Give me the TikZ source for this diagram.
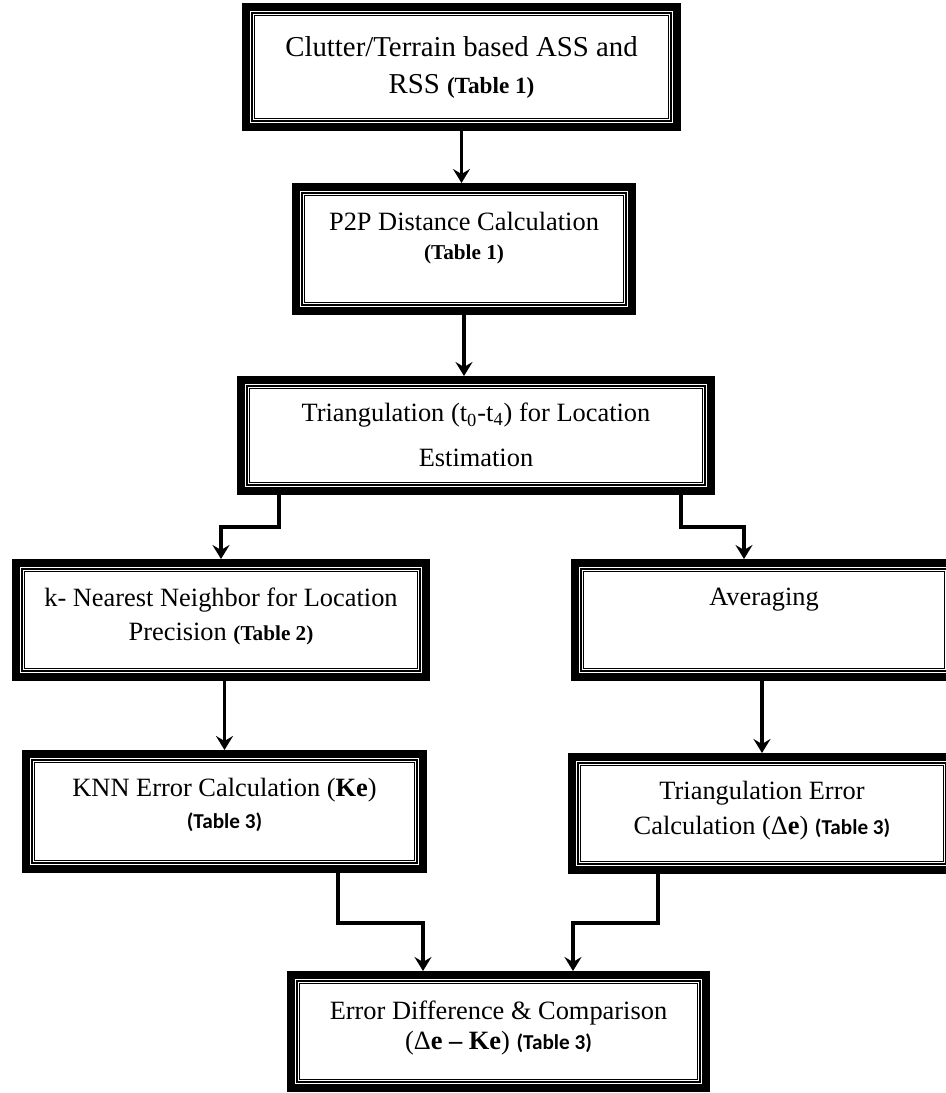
\documentclass[tikz,border=0pt]{standalone}
\usepackage{fontspec}
\setmainfont{Liberation Serif}
\newfontfamily\calibri{Carlito}
\usetikzlibrary{arrows.meta}

\newcommand{\tblb}[1]{{\fontsize{10.6}{12}\selectfont\bfseries (Table #1)}}
\newcommand{\tblc}[1]{{\calibri\fontsize{10.6}{12}\selectfont\bfseries (Table #1)}}

\begin{document}
\begin{tikzpicture}[x=0.5pt,y=-0.5pt,line width=1.6pt,>={Stealth[length=7pt,width=8.5pt,inset=2.5pt]}]
\tikzstyle{frame}=[draw,line width=4pt,inner sep=0pt]
\tikzstyle{inner}=[draw,double,line width=0.65pt,double distance=0.65pt]
\tikzstyle{txt}=[align=center,inner sep=0pt,anchor=north,font=\fontsize{13.2}{17.5}\selectfont]
\useasboundingbox (0,0) rectangle (946,1093);
\clip (0,0) rectangle (946,1093);

% boxes
\node[frame,minimum width=215.5pt,minimum height=60pt] (C) at (461.5,67) {};
\node[frame,minimum width=168pt,minimum height=62pt] (P) at (464,249) {};
\node[frame,minimum width=235pt,minimum height=55.5pt] (T) at (476,435.5) {};
\node[frame,minimum width=205pt,minimum height=57pt] (K) at (221,620) {};
\node[frame,minimum width=189pt,minimum height=57pt] (A) at (764,620) {};
\node[frame,minimum width=198.5pt,minimum height=57.5pt] (KE) at (224.5,811.5) {};
\node[frame,minimum width=190pt,minimum height=56.5pt] (TE) at (762,813.5) {};
\node[frame,minimum width=207.5pt,minimum height=56.5pt] (D) at (498.5,1031.5) {};

\foreach \b in {C,P,T,K,A,KE,TE,D}
  \draw[inner] ([shift={(5.7pt,-5.7pt)}]\b.north west) rectangle ([shift={(-5.7pt,5.7pt)}]\b.south east);

% texts
\node[txt,font=\fontsize{14.4}{18.5}\selectfont] (Ct) at ([yshift=-16pt]C.north)
  {Clutter/Terrain based ASS and\\ RSS {\fontsize{11.6}{12}\selectfont\bfseries (Table 1)}};
\node[txt] (Pt) at ([yshift=-13.9pt]P.north) {P2P Distance Calculation\\[-3pt] \tblb{1}};
\node[txt] (Tt) at ([yshift=-12.9pt]T.north)
  {Triangulation (t\textsubscript{0}-t\textsubscript{4}) for Location\\[5pt] Estimation};
\node[txt] (Kt) at ([yshift=-13.5pt]K.north) {k- Nearest Neighbor for Location\\[-0.5pt] Precision \tblb{2}};
\node[txt] (At) at ([yshift=-13.8pt]A.north) {Averaging};
\node[txt] (KEt) at ([yshift=-13.5pt]KE.north) {KNN Error Calculation (\textbf{Ke})\\[-1.5pt] \tblc{3}};
\node[txt] (TEt) at ([yshift=-13.5pt]TE.north) {Triangulation Error\\ Calculation (Δ\textbf{e}) \tblc{3}};
\node[txt] (Dt) at ([yshift=-13.9pt]D.north) {Error Difference \& Comparison\\[-2.5pt] (Δ\textbf{e – Ke}) \tblc{3}};

% connectors
\draw[->] (C.south) -- (C.south |- P.north);
\draw[->] (P.south) -- (P.south |- T.north);
\draw[->] ([xshift=21pt]T.south west) -- ++(0,32) -| (K.north);
\draw[->] ([xshift=-17pt]T.south east) -- ++(0,32) -| ([xshift=-10pt]A.north);
\draw[->] (K.south -| KE.north) -- (KE.north);
\draw[->] (TE.north |- A.south) -- (TE.north);
\draw[->] ([xshift=-44.5pt]KE.south east) -- ++(0,50) -| ([xshift=-37.75pt]D.north);
\draw[->] ([xshift=45pt]TE.south west) -- ++(0,49) -| ([xshift=37.25pt]D.north);
\end{tikzpicture}
\end{document}
